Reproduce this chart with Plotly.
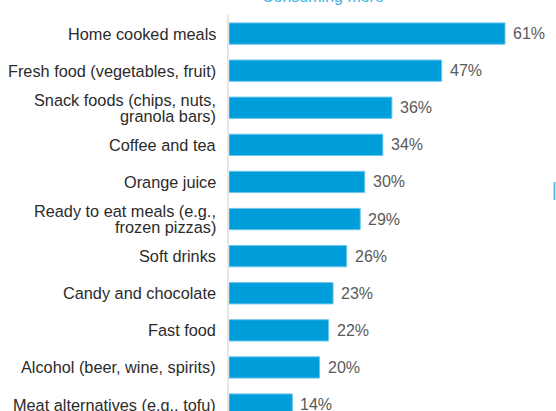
import plotly.graph_objects as go

categories = [
    "Home cooked meals",
    "Fresh food (vegetables, fruit)",
    "Snack foods (chips, nuts,<br>granola bars)",
    "Coffee and tea",
    "Orange juice",
    "Ready to eat meals (e.g.,<br>frozen pizzas)",
    "Soft drinks",
    "Candy and chocolate",
    "Fast food",
    "Alcohol (beer, wine, spirits)",
    "Meat alternatives (e.g., tofu)",
]
values = [61, 47, 36, 34, 30, 29, 26, 23, 22, 20, 14]
title_text = "Consuming more"

W, H = 556, 411
LEFT, TOP = 229, 15
PITCH = 37.1          # px per category row
PX_PER_UNIT = 4.525   # px per percentage point
LINE_GAP = 15.5       # px between lines of a wrapped label

plot_w = W - LEFT
plot_h = H - TOP
x_max = plot_w / PX_PER_UNIT
y_span = plot_h / PITCH

BAR_BLUE = "#009ddb"
FONT = "Liberation Sans, Arial, sans-serif"
LABEL_SIZE = 16.3
VALUE_SIZE = 16

fig = go.Figure(
    go.Bar(
        x=values,
        y=categories,
        orientation="h",
        marker=dict(color=BAR_BLUE, line=dict(color="#6cc6ec", width=1)),
        hoverinfo="skip",
    )
)

fig.update_layout(
    width=W,
    height=H,
    margin=dict(l=LEFT, r=0, t=TOP, b=0, pad=0),
    paper_bgcolor="white",
    plot_bgcolor="white",
    bargap=0.426,
    showlegend=False,
    font=dict(family=FONT, size=LABEL_SIZE, color="#2b2b2b"),
)

fig.update_xaxes(
    range=[0, x_max],
    showgrid=False,
    zeroline=False,
    showline=False,
    showticklabels=False,
    ticks="",
)
fig.update_yaxes(
    type="category",
    categoryorder="array",
    categoryarray=categories,
    range=[-0.5 + y_span, -0.5],
    showgrid=False,
    zeroline=False,
    showline=True,
    linecolor="#e6e6e6",
    linewidth=2,
    ticks="",
    showticklabels=False,
)

# Category labels, right-aligned against the axis; wrapped ones use tight line spacing
for cat in categories:
    lines = cat.split("<br>")
    n = len(lines)
    for i, line in enumerate(lines):
        fig.add_annotation(
            text=line,
            xref="paper", yref="y",
            x=0, y=cat,
            xanchor="right", yanchor="middle",
            xshift=-11,
            yshift=((n - 1) / 2 - i) * LINE_GAP,
            showarrow=False,
            font=dict(family=FONT, size=LABEL_SIZE, color="#2b2b2b"),
        )

# Value labels just past the end of each bar
for cat, v in zip(categories, values):
    fig.add_annotation(
        text=f"{v}%",
        xref="x", yref="y",
        x=v, y=cat,
        xanchor="left", yanchor="middle",
        xshift=6,
        showarrow=False,
        font=dict(family=FONT, size=VALUE_SIZE, color="#5a5a5a"),
    )

# Section heading above the bars
fig.add_annotation(
    text=title_text,
    xref="paper", yref="paper",
    x=(323 - LEFT) / plot_w, y=(H - 7) / plot_h,
    xanchor="center", yanchor="bottom",
    showarrow=False,
    font=dict(family=FONT, size=16, color="#3fb4e6"),
)

# Small marker at the right edge
fig.add_shape(
    type="line",
    xref="paper", yref="paper",
    x0=(W - 1.5 - LEFT) / plot_w, x1=(W - 1.5 - LEFT) / plot_w,
    y0=(H - 182) / plot_h, y1=(H - 200) / plot_h,
    line=dict(color="#5bc0eb", width=2),
)

fig.write_html("out.html")
